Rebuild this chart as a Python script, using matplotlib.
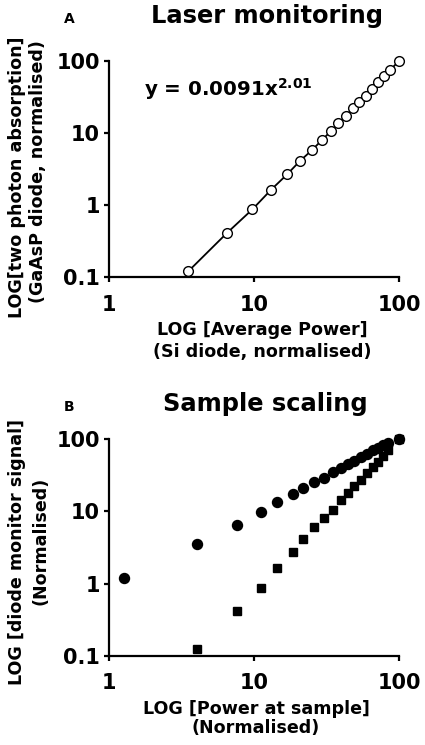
# -*- coding: utf-8 -*-
"""
Two panel log-log figure: laser monitoring (two photon absorption against
average power) and sample scaling (diode monitor signal against power at the
sample). Saves out.png.
"""

import matplotlib.pyplot as plt

# Panel A: Si diode power against GaAsP diode two photon signal
POWER_A = [3.51, 6.47, 9.72, 13.1, 16.9, 20.7, 25.0, 29.3, 33.8, 38.2, 42.9,
           47.9, 53.3, 59.0, 64.9, 71.7, 78.6, 86.8, 100.0]
TPA_A = [0.121, 0.409, 0.875, 1.64, 2.68, 4.10, 5.78, 7.96, 10.6, 13.7, 17.3,
         22.0, 27.2, 32.9, 40.8, 50.6, 61.3, 75.0, 100.0]
FIT_TEXT = 'y = 0.0091x'
FIT_EXPONENT = '2.01'

# Panel B: power at sample, linear (circles) and two photon (squares) signal
POWER_B_LINEAR = [1.26, 4.05, 7.66, 11.2, 14.3, 18.4, 21.9, 25.9, 30.4, 34.9,
                  39.6, 44.7, 49.2, 54.7, 59.9, 65.9, 71.4, 77.3, 83.7, 100.0]
SIGNAL_B_LINEAR = [1.20, 3.59, 6.58, 9.87, 13.4, 17.2, 21.2, 25.4, 29.2, 35.0,
                   40.3, 45.7, 50.8, 57.2, 63.5, 70.0, 76.2, 82.8, 89.4, 100.0]
POWER_B_TPA = POWER_B_LINEAR[1:]
SIGNAL_B_TPA = [0.124, 0.413, 0.88, 1.65, 2.72, 4.17, 6.1, 8.15, 10.6, 14.2,
                18.1, 22.4, 27.7, 34.3, 41.0, 49.2, 58.3, 70.6, 100.0]

X_TICKS = [1, 10, 100]
X_TICK_LABELS = ['1', '10', '100']
Y_TICKS = [0.1, 1, 10, 100]
Y_TICK_LABELS = ['0.1', '1', '10', '100']

W, H = 425, 745
plt.rcParams['font.family'] = ['DejaVu Sans']
plt.rcParams['font.weight'] = 'bold'
plt.rcParams['mathtext.fontset'] = 'dejavusans'


def style_axis(ax):
    """Log-log axes with GraphPad-like open frame and decade ticks."""
    ax.set_xscale('log')
    ax.set_yscale('log')
    ax.set_xlim(1, 100)
    ax.set_ylim(0.1, 100)
    ax.spines['top'].set_visible(False)
    ax.spines['right'].set_visible(False)
    for side in ('left', 'bottom'):
        ax.spines[side].set_linewidth(1.6)
    ax.set_xticks(X_TICKS, X_TICK_LABELS)
    ax.set_yticks(Y_TICKS, Y_TICK_LABELS)
    ax.minorticks_off()
    ax.tick_params(axis='both', which='major', direction='out', length=3.4,
                   width=1.6, labelsize=15)
    ax.tick_params(axis='x', pad=9)
    ax.tick_params(axis='y', pad=3.5)
    for label in ax.get_xticklabels() + ax.get_yticklabels():
        label.set_fontweight('bold')


def px_text(fig, x_px, y_px, text, **kwargs):
    """Place figure text using pixel coordinates measured from the top."""
    return fig.text(x_px / W, 1 - y_px / H, text, fontweight='bold', **kwargs)


fig = plt.figure(figsize=(W / 100, H / 100), dpi=100)

# Panel A
ax_a = fig.add_axes([109.3 / W, 1 - 277.3 / H, 289.7 / W, 216.3 / H])
style_axis(ax_a)
ax_a.plot(POWER_A, TPA_A, color='black', lw=1.3, marker='o', ms=7,
          mfc='white', mec='black', mew=1.0, clip_on=False, zorder=3)
ax_a.text(0.12, 0.838, FIT_TEXT + r'$^{\mathrm{' + FIT_EXPONENT + '}}$',
          transform=ax_a.transAxes, fontsize=14.3, fontweight='bold',
          va='baseline')

px_text(fig, 69, 22.7, 'A', fontsize=10, ha='center', va='baseline')
px_text(fig, 267, 22.7, 'Laser monitoring', fontsize=17.4, ha='center',
        va='baseline')
px_text(fig, 262, 335, 'LOG [Average Power]', fontsize=12.6, ha='center',
        va='baseline')
px_text(fig, 262, 357, '(Si diode, normalised)', fontsize=12.6, ha='center',
        va='baseline')
px_text(fig, 21.7, 177, 'LOG[two photon absorption]', fontsize=12.6,
        ha='center', va='baseline', rotation=90, rotation_mode='anchor')
px_text(fig, 42.7, 172, '(GaAsP diode, normalised)', fontsize=12.6,
        ha='center', va='baseline', rotation=90, rotation_mode='anchor')

# Panel B
ax_b = fig.add_axes([109.3 / W, 1 - 655.7 / H, 289.7 / W, 216.4 / H])
style_axis(ax_b)
ax_b.plot(POWER_B_LINEAR, SIGNAL_B_LINEAR, ls='none', marker='o', ms=7.2,
          color='black', clip_on=False, zorder=3)
ax_b.plot(POWER_B_TPA, SIGNAL_B_TPA, ls='none', marker='s', ms=6,
          color='black', clip_on=False, zorder=3)

px_text(fig, 69, 411, 'B', fontsize=10, ha='center', va='baseline')
px_text(fig, 265, 411, 'Sample scaling', fontsize=17.4, ha='center',
        va='baseline')
px_text(fig, 256, 714, 'LOG [Power at sample]', fontsize=12.6, ha='center',
        va='baseline')
px_text(fig, 256, 733, '(Normalised)', fontsize=12.6, ha='center',
        va='baseline')
px_text(fig, 21.7, 552, 'LOG [diode monitor signal]', fontsize=12.6,
        ha='center', va='baseline', rotation=90, rotation_mode='anchor')
px_text(fig, 45.7, 541, '(Normalised)', fontsize=12.6, ha='center',
        va='baseline', rotation=90, rotation_mode='anchor')

fig.savefig('out.png', dpi=100)
